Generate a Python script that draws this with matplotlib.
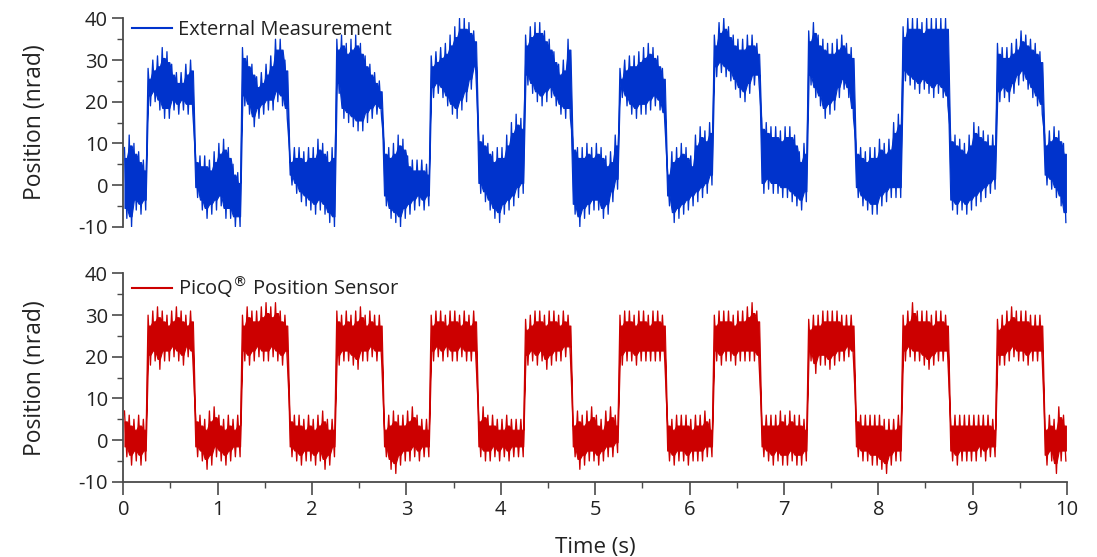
import numpy as np
import matplotlib
matplotlib.use('Agg')
import matplotlib.pyplot as plt
from matplotlib.ticker import MultipleLocator

plt.rcParams['font.family'] = ['Open Sans', 'DejaVu Sans']
plt.rcParams['axes.unicode_minus'] = False

##############################################################################
# DATA (band envelope, one value per 0.05 s chunk)
##############################################################################
chunk = 0.05

blue_upper = [
    9, 12, 10, 8, 6,
    28, 30, 31, 33, 32, 29, 27, 27, 29, 30,
    8, 7, 7, 6, 8, 10, 11, 9, 5, 3,
    33, 31, 29, 26, 27, 29, 31, 35, 35, 30,
    8, 9, 9, 8, 9, 9, 11, 10, 8, 9,
    35, 36, 34, 35, 36, 34, 31, 29, 27, 25,
    10, 9, 10, 12, 11, 7, 6, 6, 6, 5,
    31, 32, 33, 34, 36, 38, 40, 40, 39, 37,
    13, 12, 10, 8, 9, 9, 12, 15, 17, 16,
    36, 38, 39, 39, 37, 35, 32, 29, 30, 35,
    11, 9, 9, 10, 9, 10, 9, 7, 8, 12,
    28, 30, 31, 31, 32, 33, 34, 33, 31, 28,
    5, 8, 9, 10, 9, 7, 12, 14, 13, 15,
    36, 39, 40, 38, 36, 35, 35, 36, 36, 34,
    16, 15, 14, 14, 13, 14, 14, 12, 8, 10,
    37, 39, 36, 35, 34, 34, 35, 36, 34, 33,
    10, 9, 8, 9, 9, 11, 10, 11, 15, 17,
    38, 40, 40, 40, 39, 40, 40, 40, 40, 40,
    13, 12, 11, 10, 12, 15, 14, 13, 12, 12,
    34, 33, 33, 34, 35, 37, 36, 35, 34, 32,
    12, 13, 14, 13, 10,
]
blue_lower = [
    -8, -10, -6, -7, -6,
    19, 20, 18, 16, 16, 18, 17, 18, 17, 17,
    -3, -6, -8, -7, -6, -5, -8, -8, -10, -10,
    19, 17, 14, 16, 17, 18, 18, 20, 19, 16,
    0, -2, -4, -5, -6, -7, -6, -7, -9, -10,
    22, 16, 15, 14, 13, 13, 15, 16, 17, 16,
    -5, -8, -9, -10, -8, -7, -6, -5, -6, -5,
    21, 22, 21, 19, 17, 16, 18, 20, 23, 26,
    -2, -4, -6, -8, -9, -7, -6, -5, -3, -2,
    24, 22, 20, 19, 20, 21, 19, 17, 16, 16,
    -7, -10, -8, -7, -6, -6, -8, -7, -4, -1,
    21, 19, 17, 16, 17, 17, 18, 19, 18, 15,
    -5, -9, -8, -7, -6, -5, -4, -3, -2, 0,
    26, 27, 26, 25, 23, 21, 20, 22, 24, 24,
    -2, -1, -2, -2, -3, -3, -4, -5, -6, -4,
    24, 21, 19, 16, 17, 18, 21, 23, 21, 16,
    -3, -5, -6, -7, -7, -5, -4, -3, -3, -3,
    25, 24, 23, 22, 23, 22, 21, 22, 21, 19,
    -6, -7, -6, -7, -6, -5, -4, -3, -2, -1,
    20, 21, 20, 22, 24, 25, 23, 21, 19, 17,
    0, -1, -3, -5, -9,
]

red_upper = [
    7, 6, 5, 6, 5,
    30, 31, 32, 31, 30, 31, 32, 31, 30, 31,
    7, 6, 5, 7, 8, 6, 5, 6, 5, 6,
    30, 32, 31, 31, 32, 33, 32, 33, 31, 30,
    7, 6, 6, 5, 6, 5, 6, 7, 5, 5,
    31, 30, 31, 30, 31, 32, 30, 31, 30, 30,
    5, 6, 7, 6, 6, 7, 8, 6, 5, 5,
    30, 31, 31, 30, 31, 31, 30, 31, 30, 31,
    7, 8, 6, 6, 5, 5, 6, 5, 5, 5,
    29, 30, 31, 31, 30, 31, 31, 30, 31, 30,
    6, 7, 6, 7, 8, 6, 5, 7, 8, 6,
    30, 31, 31, 30, 31, 31, 30, 31, 31, 30,
    6, 5, 6, 6, 6, 5, 6, 6, 7, 5,
    30, 31, 31, 31, 30, 31, 31, 32, 33, 31,
    6, 6, 6, 6, 7, 6, 7, 6, 6, 5,
    29, 30, 30, 31, 31, 31, 31, 30, 30, 30,
    7, 6, 6, 6, 6, 6, 5, 5, 5, 6,
    30, 31, 33, 31, 31, 31, 30, 31, 31, 30,
    6, 6, 6, 6, 6, 6, 6, 6, 6, 5,
    29, 30, 31, 32, 31, 31, 31, 30, 30, 30,
    5, 6, 5, 8, 6,
]
red_lower = [
    -4, -6, -5, -6, -5,
    18, 19, 17, 19, 19, 20, 19, 18, 20, 19,
    -4, -5, -7, -6, -4, -5, -6, -5, -4, -4,
    19, 18, 19, 20, 19, 19, 20, 19, 18, 19,
    -4, -5, -6, -5, -5, -6, -5, -7, -6, -4,
    18, 19, 19, 18, 17, 19, 19, 20, 19, 19,
    -4, -7, -8, -6, -5, -5, -4, -5, -4, -4,
    19, 20, 19, 20, 19, 19, 20, 19, 19, 19,
    -4, -5, -5, -4, -5, -4, -5, -4, -4, -4,
    18, 19, 18, 19, 17, 18, 19, 19, 20, 20,
    -4, -7, -6, -5, -5, -6, -5, -4, -4, -3,
    18, 19, 19, 18, 19, 19, 19, 19, 19, 19,
    -5, -6, -5, -5, -6, -5, -5, -5, -4, -4,
    19, 18, 19, 19, 18, 19, 19, 19, 19, 18,
    -4, -5, -6, -5, -6, -6, -5, -6, -6, -5,
    19, 16, 18, 18, 17, 18, 19, 19, 20, 19,
    -4, -5, -5, -6, -6, -7, -8, -6, -5, -5,
    19, 20, 19, 19, 18, 17, 18, 19, 19, 19,
    -5, -6, -5, -5, -5, -5, -4, -5, -4, -4,
    18, 18, 19, 20, 19, 19, 18, 19, 19, 19,
    -6, -5, -8, -5, -5,
]

series = [
    ('External Measurement', blue_upper, blue_lower, '#0033cc'),
    ('PicoQ$^{\u00ae}$ Position Sensor', red_upper, red_lower, '#cc0000'),
]


def zigzag(upper, lower):
    """Alternate between the top and bottom of the band in each chunk."""
    t0 = np.arange(len(upper)) * chunk
    t = np.empty(2 * len(upper))
    y = np.empty(2 * len(upper))
    t[0::2] = t0 + chunk * 0.25
    t[1::2] = t0 + chunk * 0.75
    y[0::2] = upper
    y[1::2] = lower
    return t, y


##############################################################################
# PLOT
##############################################################################
fig = plt.figure(figsize=(10.97, 5.57), dpi=100)
axes = [fig.add_axes([0.1124, 0.593, 0.8603, 0.374]),
        fig.add_axes([0.1124, 0.135, 0.8603, 0.374])]

spine_color = '#4a4a4a'
text_color = '#222222'
core_margin = 2.5   # solid core of the noisy band, spikes reach the envelope

for ax, (label, up, lo, color) in zip(axes, series):
    t, y = zigzag(up, lo)
    up_a = np.repeat(np.asarray(up, float), 2)
    lo_a = np.repeat(np.asarray(lo, float), 2)
    ax.fill_between(t, up_a - core_margin, lo_a + core_margin,
                    color=color, lw=0.8, edgecolor=color)
    ax.plot(t, y, color=color, lw=0.95, label=label)
    ax.set_xlim(0, 10)
    ax.set_ylim(-10, 40)
    ax.yaxis.set_major_locator(MultipleLocator(10))
    ax.yaxis.set_minor_locator(MultipleLocator(5))
    for s in ['top', 'right']:
        ax.spines[s].set_visible(False)
    ax.spines['left'].set_color(spine_color)
    ax.spines['left'].set_linewidth(1.3)
    ax.tick_params(axis='y', which='major', direction='out', length=8, width=1.2,
                   colors=spine_color, labelcolor=text_color, labelsize=14.5, pad=3)
    ax.tick_params(axis='y', which='minor', direction='out', length=4.5, width=1.0,
                   colors=spine_color)
    ax.set_ylabel('Position (nrad)', fontsize=16.5, color=text_color)
    ax.yaxis.set_label_coords(-0.081, 0.5)
    leg = ax.legend(loc='upper left', bbox_to_anchor=(-0.006, 1.062), frameon=False,
                    handlelength=2.0, handletextpad=0.3, fontsize=14.5,
                    borderaxespad=0.3)
    for line in leg.get_lines():
        line.set_linewidth(1.5)
    for txt in leg.get_texts():
        txt.set_color(text_color)

# top panel: no x axis
axes[0].spines['bottom'].set_visible(False)
axes[0].tick_params(axis='x', which='both', bottom=False, labelbottom=False)

# bottom panel: time axis
ax = axes[1]
ax.spines['bottom'].set_color(spine_color)
ax.spines['bottom'].set_linewidth(1.3)
ax.xaxis.set_major_locator(MultipleLocator(1))
ax.xaxis.set_minor_locator(MultipleLocator(0.5))
ax.tick_params(axis='x', which='major', direction='out', length=9, width=1.2,
               colors=spine_color, labelcolor=text_color, labelsize=14.5, pad=4)
ax.tick_params(axis='x', which='minor', direction='out', length=4.5, width=1.0,
               colors=spine_color)
fig.text(0.5425, 1 - 547 / 557, 'Time (s)', ha='center', va='center',
         fontsize=16, color=text_color)

fig.savefig('out.png', dpi=100)
